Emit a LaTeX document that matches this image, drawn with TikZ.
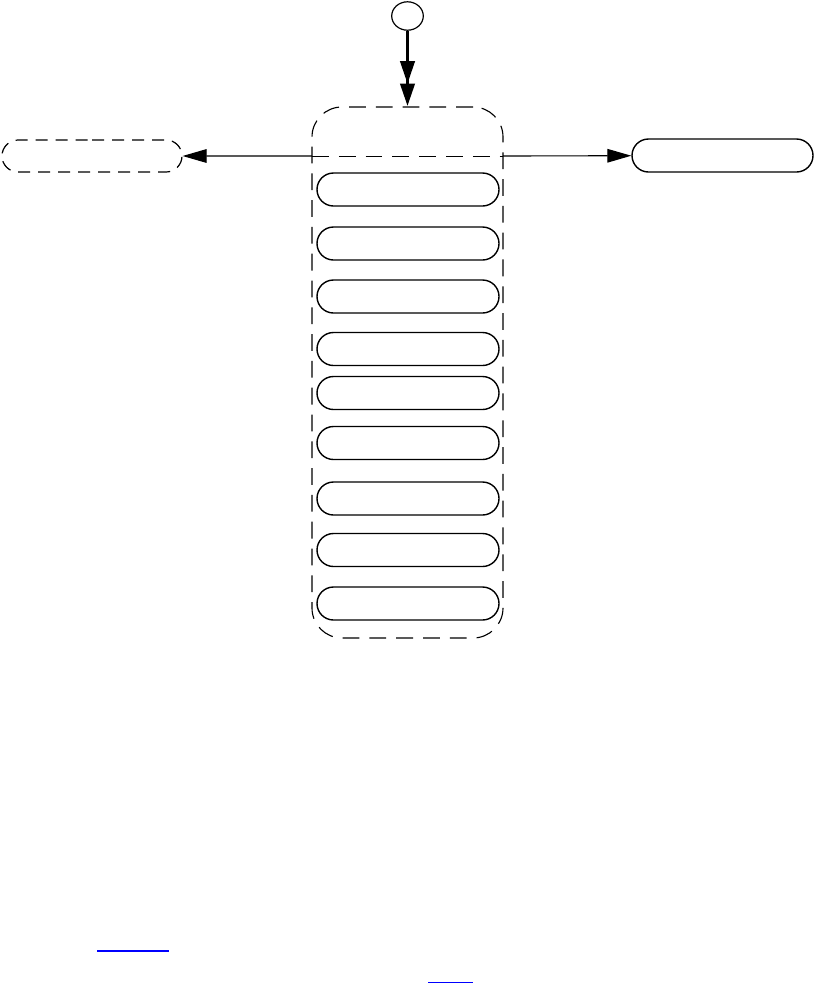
\documentclass[tikz,border=0pt]{standalone}
\usepackage{tikz}
\usetikzlibrary{arrows.meta,positioning,shapes.misc,shapes.geometric}
\definecolor{linkblue}{RGB}{0,0,255}
\tikzset{
	>=Triangle,
	pill/.style={
		rounded rectangle,
		draw,
		line width=0.35mm,
		minimum width=45.5mm,
		minimum height=8.25mm,
		inner sep=0pt
	},
	ghostpill/.style={
		pill,
		line width=0.3mm,
		dash pattern=on 3mm off 2mm
	},
	region/.style={
		draw,
		rounded corners=7.5mm,
		line width=0.28mm,
		dash pattern=on 4.2mm off 2.5mm,
		minimum width=47.75mm,
		minimum height=132.75mm,
		inner sep=0pt
	},
	conn/.style={
		-{Triangle[length=6mm,width=3.4mm]},
		line width=0.28mm
	},
	initconn/.style={
		-{Triangle[length=5.6mm,width=3.6mm]Triangle[length=5.6mm,width=3.6mm]},
		line width=0.7mm
	}
}

\begin{document}
\begin{tikzpicture}[x=0.25mm,y=-0.25mm]
	\useasboundingbox (0,0) rectangle (814,984);
	
	% Start
	\node[ellipse,draw,line width=0.3mm,minimum width=7.9mm,minimum height=7.1mm,inner sep=0pt] (start) at (407.5,16) {};
	
	% Composite region
	\node[region] (comp) at (407.5,372.5) {};
	\coordinate (divL) at (312,156);
	\coordinate (divR) at (503,156);
	\coordinate (compTop) at (407.5,106);
	\draw[line width=0.22mm,dash pattern=on 4.2mm off 2.5mm] (divL) -- (divR);
	
	% Inner states
	\foreach \name/\y in {s1/189.5,s2/243.5,s3/296.5,s4/349,s5/393,s6/443,s7/498.5,s8/550,s9/603.5}
		\node[pill] (\name) at (408,\y) {};
	
	% Outer states
	\node[ghostpill,minimum width=45mm,minimum height=8mm] (left) at (92,156) {};
	\node[pill,minimum width=45.25mm] (right) at (722.5,155.5) {};
	
	% Transitions
	\draw[initconn] (start) -- (compTop);
	\draw[conn] (divL) -- (left);
	\draw[conn] (divR) -- (right);
	
	% Link underlines
	\draw[linkblue,line width=0.3mm] (97,951) -- (169,951);
	\draw[linkblue,line width=0.3mm] (428,982.5) -- (473,982.5);
	
\end{tikzpicture}
\end{document}
